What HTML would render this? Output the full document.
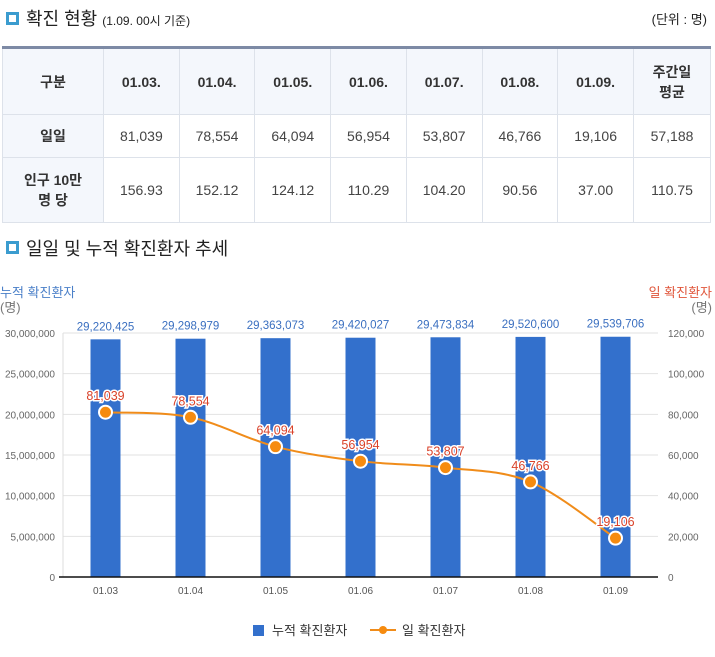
<!DOCTYPE html>
<html><head><meta charset="utf-8">
<style>
body{margin:0;width:715px;height:657px;background:#fff;font-family:"Liberation Sans","Noto Sans CJK KR",sans-serif;position:relative;overflow:hidden;color:#333}
.h{position:absolute;font-size:18px;color:#222}
.sq{position:absolute;width:7px;height:7px;border:3px solid #3b9ccf;background:#fff}
table{position:absolute;left:2px;top:46px;width:709px;border-collapse:collapse;font-size:14px;text-align:center;border-top:3px solid #7d8aa5}
td{border:1px solid #dde2ea;color:#444}
tr.hd td{background:#f4f7fc;font-weight:bold;height:63px;color:#333}
td.f{background:#f4f7fc;font-weight:bold;color:#333}
</style></head><body>
<div class="sq" style="left:6px;top:12px"></div>
<div class="h" style="left:26px;top:5px">확진 현황 <span style="font-size:12px">(1.09. 00시 기준)</span></div>
<div class="h" style="right:8px;top:9px;font-size:13px">(단위 : 명)</div>
<table>
<tr class="hd"><td style="width:98px">구분</td><td>01.03.</td><td>01.04.</td><td>01.05.</td><td>01.06.</td><td>01.07.</td><td>01.08.</td><td>01.09.</td><td style="width:74px">주간일<br>평균</td></tr>
<tr style="height:43px"><td class="f">일일</td><td>81,039</td><td>78,554</td><td>64,094</td><td>56,954</td><td>53,807</td><td>46,766</td><td>19,106</td><td>57,188</td></tr>
<tr style="height:65px"><td class="f">인구 10만<br>명 당</td><td>156.93</td><td>152.12</td><td>124.12</td><td>110.29</td><td>104.20</td><td>90.56</td><td>37.00</td><td>110.75</td></tr>
</table>
<div class="sq" style="left:6px;top:241px"></div>
<div class="h" style="left:26px;top:235px">일일 및 누적 확진환자 추세</div>
<svg id="c" width="715" height="657" style="position:absolute;left:0;top:0"></svg>
<script>
const categories=["01.03","01.04","01.05","01.06","01.07","01.08","01.09"];
const cumulative=[29220425,29298979,29363073,29420027,29473834,29520600,29539706];
const daily=[81039,78554,64094,56954,53807,46766,19106];
const leftTicks=[0,5000000,10000000,15000000,20000000,25000000,30000000];
const rightTicks=[0,20000,40000,60000,80000,100000,120000];
const L=63,R=658,T=333,B=577,NS="http://www.w3.org/2000/svg",svg=document.getElementById('c');
const x=i=>L+(R-L)/categories.length*(i+0.5);
const yl=v=>B-(B-T)*v/30000000, yr=v=>B-(B-T)*v/120000;
const fmt=v=>v.toLocaleString('en-US');
function el(t,a,txt){const e=document.createElementNS(NS,t);for(const k in a)e.setAttribute(k,a[k]);if(txt!=null)e.textContent=txt;svg.appendChild(e);return e;}
leftTicks.forEach((v,i)=>{
 const g=el('line',{x1:L,x2:R,y1:yl(v),y2:yl(v),stroke:'#e2e2e2'});
 
 
 const t=el('text',{x:L-8,y:yl(v)+4,'text-anchor':'end','font-size':10,fill:'#666'},fmt(v));
 
 
});
rightTicks.forEach(v=>{
 const t=el('text',{x:R+10,y:yr(v)+4,'font-size':10,fill:'#666'},fmt(v));
 
 
});
el('line',{x1:L,x2:L,y1:T,y2:B,stroke:'#ddd'});
categories.forEach((c,i)=>{
 const b=el('rect',{x:x(i)-15,y:yl(cumulative[i]),width:30,height:B-yl(cumulative[i]),fill:'#3370cc'});
 
 
 const t=el('text',{x:x(i),y:yl(cumulative[i])-9,'text-anchor':'middle','font-size':11.5,fill:'#3a6fc0'},fmt(cumulative[i]));
 
 
 const xl=el('text',{x:x(i),y:B+17,'text-anchor':'middle','font-size':10,fill:'#555'},c);
 
 
});
el('line',{x1:L-4,x2:R,y1:B,y2:B,stroke:'#111','stroke-width':1.5});
const pts=daily.map((v,i)=>[x(i),yr(v)]);
let d='M'+pts[0];
for(let i=0;i<pts.length-1;i++){const p0=pts[i-1]||pts[i],p1=pts[i],p2=pts[i+1],p3=pts[i+2]||p2;
 d+=` C${p1[0]+(p2[0]-p0[0])/6},${p1[1]+(p2[1]-p0[1])/6} ${p2[0]-(p3[0]-p1[0])/6},${p2[1]-(p3[1]-p1[1])/6} ${p2[0]},${p2[1]}`;}
const ln=el('path',{d:d,fill:'none',stroke:'#f08c1a','stroke-width':2});


pts.forEach((p,i)=>{
 const c=el('circle',{cx:p[0],cy:p[1],r:6.5,fill:'#f68b0f',stroke:'#fff','stroke-width':2});
 
 
 const t=el('text',{x:p[0],y:p[1]-12,'text-anchor':'middle','font-size':12.5,fill:'#d9422a',stroke:'#fff','stroke-width':3,'paint-order':'stroke'},fmt(daily[i]));
 
 
});
const a=[['누적 확진환자',0,297,'start','#4a7fc8','left-axis-title'],['(명)',0,312,'start','#777','left-axis-unit'],['일 확진환자',712,297,'end','#e0553a','right-axis-title'],['(명)',712,312,'end','#777','right-axis-unit']];
a.forEach(q=>{const t=el('text',{x:q[1],y:q[2],'text-anchor':q[3],'font-size':13,fill:q[4]},q[0]);
 
 });
const lg1=el('rect',{x:253,y:625,width:11,height:11,fill:'#3370cc'});


const lt1=el('text',{x:272,y:635,'font-size':13,fill:'#333'},'누적 확진환자');


el('line',{x1:370,x2:396,y1:630,y2:630,stroke:'#f08c1a','stroke-width':2});
const lg2=el('circle',{cx:383,cy:630,r:4,fill:'#f68b0f'});


const lt2=el('text',{x:402,y:635,'font-size':13,fill:'#333'},'일 확진환자');


</script>
</body></html>
